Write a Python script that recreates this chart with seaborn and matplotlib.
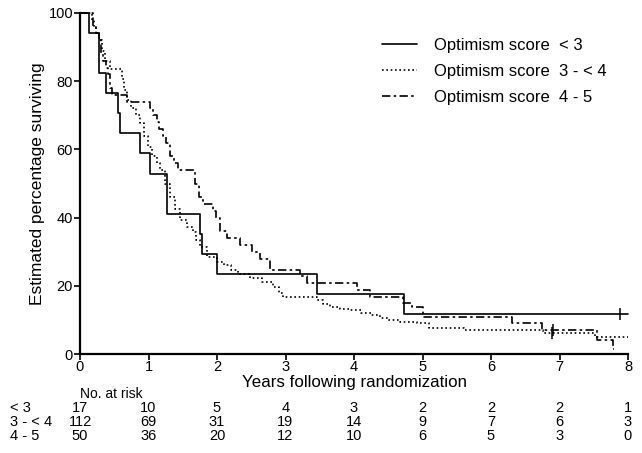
import numpy as np
import pandas as pd
import matplotlib
matplotlib.use("Agg")
import matplotlib.pyplot as plt
import seaborn as sns

sns.set_style("ticks")
plt.rcParams["font.family"] = ["Liberation Sans", "DejaVu Sans"]
for key in ["text.color", "axes.labelcolor", "xtick.color", "ytick.color", "axes.edgecolor"]:
    plt.rcParams[key] = "black"

# ---------------- data ----------------
group_labels = ["Optimism score  < 3", "Optimism score  3 - < 4", "Optimism score  4 - 5"]
row_labels = ["< 3", "3 - < 4", "4 - 5"]

t_low = [0, 0.13, 0.28, 0.375, 0.55, 0.58, 0.88, 1.02, 1.27, 1.75, 1.78, 2.0, 3.46, 4.73, 8.0]
s_low = [100, 94.1, 82.4, 76.5, 70.6, 64.7, 58.8, 52.9, 41.2, 35.3, 29.4, 23.5, 17.6, 11.8, 11.8]

t_mid = [0, 0.17, 0.2, 0.24, 0.28, 0.32, 0.36, 0.44, 0.61, 0.64, 0.68, 0.75, 0.82, 0.88,
         0.94, 0.99, 1.05, 1.12, 1.17, 1.24, 1.31, 1.38, 1.46, 1.56, 1.65, 1.70, 1.75,
         1.85, 2.0, 2.1, 2.2, 2.3, 2.48, 2.65, 2.82, 2.9, 2.97, 3.46, 3.55, 3.65, 3.8,
         3.94, 4.1, 4.25, 4.38, 4.5, 4.67, 4.92, 5.1, 5.6, 6.76, 7.52, 8.0]
s_mid = [100, 98, 96, 94, 92, 89, 86, 83.5, 80.5, 77.5, 74.5, 72, 70, 67.7,
         64, 60.7, 58, 56, 54, 50, 46, 42.5, 39.3, 37.2, 35.8, 33.5, 31.4,
         28.4, 27, 26, 24.6, 23.5, 22.3, 21, 19.6, 18, 16.7, 15.8, 14.8, 13.8, 13.2,
         12.9, 12.0, 11.3, 10.6, 10, 9.4, 9.1, 7.6, 7.0, 6.2, 5.0, 5.0]

t_high = [0, 0.19, 0.24, 0.28, 0.31, 0.34, 0.38, 0.41, 0.44, 0.47, 0.68, 1.02, 1.07,
          1.12, 1.16, 1.21, 1.26, 1.31, 1.37, 1.43, 1.68, 1.74, 1.8, 1.94, 1.99, 2.04,
          2.14, 2.34, 2.51, 2.63, 2.77, 3.21, 3.31, 4.04, 4.23, 4.72, 4.85, 5.0, 6.3,
          6.74, 7.55, 7.78, 7.8]
s_high = [100, 96, 94, 92, 88, 86, 84, 82, 78, 76, 74, 72, 70,
          68, 66, 64, 62, 58, 56, 54, 50, 46, 44, 42, 40, 36,
          34, 32, 30, 28, 24.5, 23, 20.8, 18.8, 16.7, 15, 13.8, 10.9, 9.1,
          7.0, 4.1, 1.5, 1.5]

cens_t = [7.88, 6.89, 6.9]
cens_s = [11.8, 6.2, 7.0]

risk_times = [0, 1, 2, 3, 4, 5, 6, 7, 8]
risk_low = [17, 10, 5, 4, 3, 2, 2, 2, 1]
risk_mid = [112, 69, 31, 19, 14, 9, 7, 6, 3]
risk_high = [50, 36, 20, 12, 10, 6, 5, 3, 0]

# ---------------- build table ----------------
df = pd.concat([
    pd.DataFrame({"t": t_low, "s": s_low, "group": group_labels[0]}),
    pd.DataFrame({"t": t_mid, "s": s_mid, "group": group_labels[1]}),
    pd.DataFrame({"t": t_high, "s": s_high, "group": group_labels[2]}),
], ignore_index=True)
cdf = pd.DataFrame({"t": cens_t, "s": cens_s})

fig = plt.figure(figsize=(6.42, 4.53), dpi=100)
ax = fig.add_axes([80 / 642, 99 / 453, 548 / 642, 341 / 453])

dashes = {group_labels[0]: "", group_labels[1]: (1, 1.6), group_labels[2]: (5, 2, 1.5, 2)}
sns.lineplot(data=df, x="t", y="s", style="group", dashes=dashes, color="black",
             estimator=None, sort=False, drawstyle="steps-post", linewidth=1.2,
             ax=ax, clip_on=False)
sns.scatterplot(data=cdf, x="t", y="s", marker="|", s=70, color="black",
                linewidth=1.1, ax=ax, legend=False, clip_on=False)

ax.set_xlim(0, 8)
ax.set_ylim(0, 100)
ax.set_xticks(range(0, 9))
ax.set_yticks(range(0, 101, 20))
for sp in ["top", "right"]:
    ax.spines[sp].set_visible(False)
for sp in ["left", "bottom"]:
    ax.spines[sp].set_linewidth(1.6)
ax.tick_params(axis="both", length=4, width=1.2, labelsize=10.5, pad=1)
ax.tick_params(axis="x", pad=0.5)

ax.set_xlabel("Years following randomization", fontsize=12.2, labelpad=0.5)
ax.set_ylabel("Estimated percentage surviving", fontsize=12.5)
ax.yaxis.set_label_coords(-0.063, 0.5)

handles, labels = ax.get_legend_handles_labels()
ax.legend(handles, labels, loc="upper left", bbox_to_anchor=(382 / 642, 1 - 38 / 453),
          bbox_transform=fig.transFigure, frameon=False, fontsize=12,
          handlelength=2.1, handletextpad=1.05, labelspacing=0.66,
          borderpad=0, borderaxespad=0)

# number-at-risk table
fig.text(80 / 642, 1 - 394 / 453, "No. at risk", fontsize=10, va="center", ha="left")
for row, (lab, vals) in enumerate(zip(row_labels, [risk_low, risk_mid, risk_high])):
    ypix = 408 + row * 14
    fig.text(10 / 642, 1 - ypix / 453, lab, fontsize=10.5, va="center", ha="left")
    for tx, v in zip(risk_times, vals):
        xfig = fig.transFigure.inverted().transform(ax.transData.transform((tx, 0)))[0]
        fig.text(xfig, 1 - ypix / 453, str(v), fontsize=10.5, va="center", ha="center")

fig.savefig("out.png", dpi=100)
